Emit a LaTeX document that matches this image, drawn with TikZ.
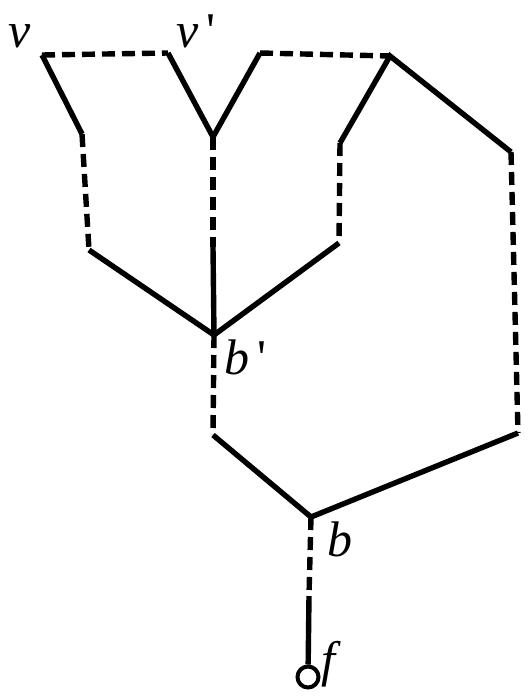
\documentclass[tikz,border=0pt]{standalone}
\usepackage{fontspec}
\setmainfont{Liberation Serif}
\begin{document}
\begin{tikzpicture}[x=1pt,y=-1pt,
  edge/.style={line width=5.4pt,line cap=butt,line join=miter},
  dedge/.style={edge,dash pattern=on 13pt off 7pt},
  lab/.style={anchor=base west,inner sep=0pt,font=\fontsize{50}{56}\selectfont\itshape},
  endpt/.style={circle,draw,line width=4pt,minimum size=21pt,inner sep=0pt}]
\useasboundingbox (0,0) rectangle (529,698);
% vertices
\coordinate (v) at (42,55);
\coordinate (vp) at (168,53);
\coordinate (vb) at (213,137);
\coordinate (t1) at (260,53);
\coordinate (t2) at (390,56);
\coordinate (r1) at (340,143);
\coordinate (r2) at (511,152);
\coordinate (l1) at (82,134);
\coordinate (l2) at (89,250);
\coordinate (m1) at (213,247);
\coordinate (bp) at (214,335);
\coordinate (r1b) at (339,243);
\coordinate (bp2) at (213,435);
\coordinate (b) at (311,517);
\coordinate (r2b) at (518,433);
\coordinate (f1) at (309,596);
\node[endpt] (f) at (308,677) {};
% edges
\draw[dedge] (v) -- (vp);
\draw[edge] (vp) -- (vb) -- (t1);
\draw[dedge] (t1) -- (t2);
\draw[edge] (r1) -- (t2) -- (r2);
\draw[edge] (v) -- (l1);
\draw[dedge] (l1) -- (l2);
\draw[edge] (l2) -- (bp);
\draw[dedge] (vb) -- (m1);
\draw[edge] (m1) -- (bp);
\draw[dedge] (r1) -- (r1b);
\draw[edge] (r1b) -- (bp);
\draw[dedge] (bp) -- (bp2);
\draw[edge] (bp2) -- (b);
\draw[dedge] (r2) -- (r2b);
\draw[edge] (r2b) -- (b);
\draw[dedge] (b) -- (f1);
\draw[edge] (f1) -- (f);
% labels
\node[lab] (lv) at (8,48) {v};
\node[lab] (lvp) at (176,48) {v\,{\upshape\textquotesingle}};
\node[lab] (lbp) at (224,374) {b\,{\upshape\textquotesingle}};
\node[lab] (lb) at (327,556) {b};
\node[lab] (lf) at (321,676) {f};
\end{tikzpicture}
\end{document}
